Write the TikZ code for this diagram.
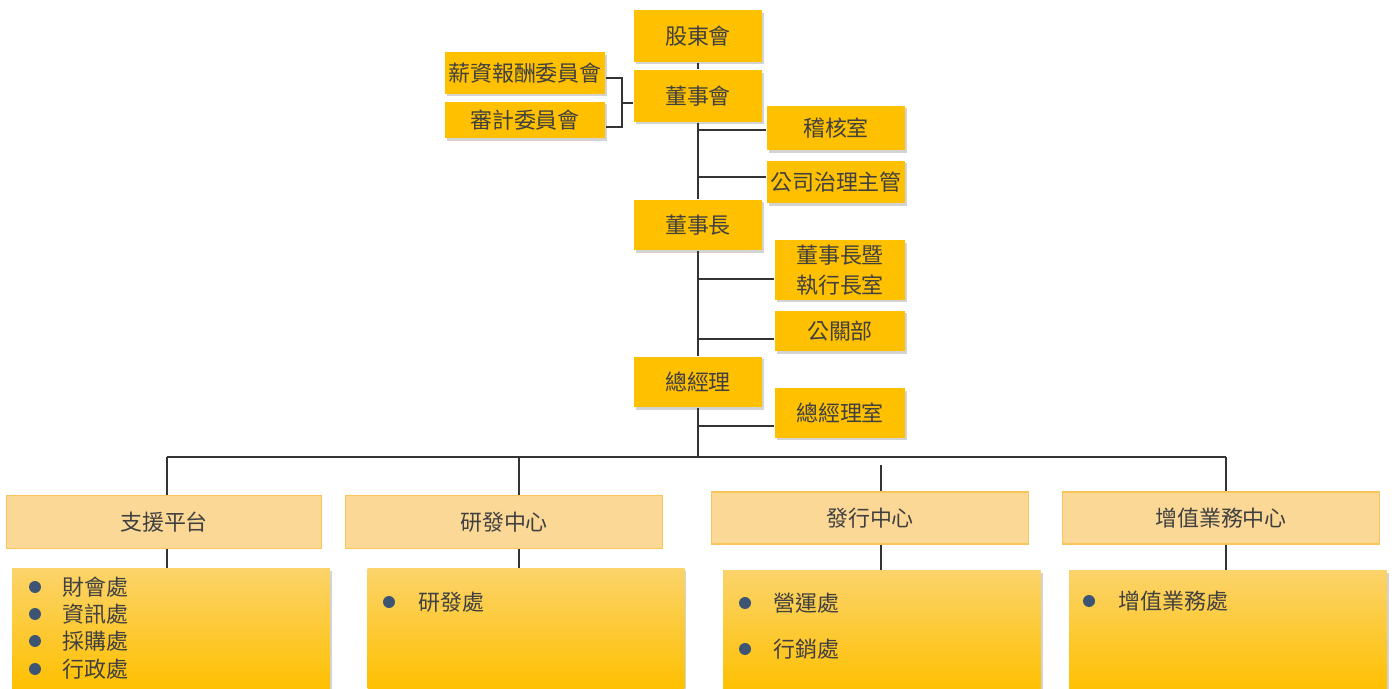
\documentclass[tikz,border=0pt]{standalone}
\usepackage{fontspec}
\setmainfont{Noto Sans CJK TC}
\usetikzlibrary{shadows}
\definecolor{gold}{HTML}{FFC000}
\definecolor{goldlight}{HTML}{FBD36A}
\definecolor{peach}{HTML}{FCD897}
\definecolor{peachline}{HTML}{F7C55A}
\definecolor{txt}{HTML}{404040}
\definecolor{dotblue}{HTML}{3D5475}
\definecolor{linegray}{HTML}{333333}

\begin{document}
\begin{tikzpicture}[x=0.02cm, y=-0.02cm, line width=0.8pt,
    every node/.style={font=\fontsize{12.5}{17}\selectfont, text=txt},
    main/.style={fill=gold, inner sep=0pt, align=center,
        drop shadow={shadow xshift=0.04cm, shadow yshift=-0.05cm, opacity=0.35, fill=gray}},
    hub/.style={fill=peach, draw=peachline, line width=0.6pt, inner sep=0pt,
        minimum width=6.34cm, minimum height=1.04cm},
    dept/.style={anchor=north, top color=goldlight, bottom color=gold, inner sep=0pt,
        minimum width=6.36cm, minimum height=2.42cm,
        drop shadow={shadow xshift=0.04cm, shadow yshift=-0.05cm, opacity=0.35, fill=gray}},
    dot/.style={circle, fill=dotblue, inner sep=0pt, minimum size=0.24cm},
    item/.style={anchor=west, inner sep=0pt},
    link/.style={draw=linegray}]
    \useasboundingbox (0,0) rectangle (1394,689);

    \node[main, minimum width=2.58cm, minimum height=1.04cm] (gdh) at (698,36)  {股東會};
    \node[main, minimum width=2.58cm, minimum height=1.04cm] (dsh) at (698,96)  {董事會};
    \node[main, minimum width=3.2cm, minimum height=0.84cm]  (pay) at (525,73)  {薪資報酬委員會};
    \node[main, minimum width=3.2cm, minimum height=0.74cm]  (aud) at (525,120) {審計委員會};
    \node[main, minimum width=2.76cm, minimum height=0.9cm]  (jhs) at (836,128) {稽核室};
    \node[main, minimum width=2.76cm, minimum height=0.86cm] (gov) at (836,182) {公司治理主管};
    \node[main, minimum width=2.58cm, minimum height=1.02cm] (dsz) at (698,225) {董事長};
    \node[main, minimum width=2.62cm, minimum height=1.2cm]  (ceo) at (840,270) {董事長暨\\執行長室};
    \node[main, minimum width=2.62cm, minimum height=0.82cm] (pr)  at (840,331) {公關部};
    \node[main, minimum width=2.58cm, minimum height=1.02cm] (zjl) at (698,382) {總經理};
    \node[main, minimum width=2.62cm, minimum height=1.0cm]  (gmo) at (840,413) {總經理室};

    \node[hub, minimum width=6.3cm, minimum height=1.06cm] (sup) at (164,522)  {支援平台};
    \node[hub, minimum height=1.06cm]                     (rd)  at (504,522)  {研發中心};
    \node[hub]                                            (fx)  at (870,518)  {發行中心};
    \node[hub]                                            (vas) at (1221,518) {增值業務中心};

    \node[dept] (d1) at (171,568)  {};
    \node[dept, minimum width=6.34cm] (d2) at (526,568) {};
    \node[dept] (d3) at (882,570)  {};
    \node[dept] (d4) at (1228,570) {};

    \node[dot] (p1) at (35,587) {};   \node[item] (t1) at (62,587)   {財會處};
    \node[dot] (p2) at (35,614) {};   \node[item] (t2) at (62,614)   {資訊處};
    \node[dot] (p3) at (35,641) {};   \node[item] (t3) at (62,641)   {採購處};
    \node[dot] (p4) at (35,669) {};   \node[item] (t4) at (62,669)   {行政處};
    \node[dot] (p5) at (389,602) {};  \node[item] (t5) at (418,602)  {研發處};
    \node[dot] (p6) at (745,603) {};  \node[item] (t6) at (773,603)  {營運處};
    \node[dot] (p7) at (745,649) {};  \node[item] (t7) at (773,649)  {行銷處};
    \node[dot] (p8) at (1089,601) {}; \node[item] (t8) at (1118,601) {增值業務處};

    \coordinate (br) at (622,103);
    \coordinate (a1) at (698,130);
    \coordinate (a2) at (698,177);
    \coordinate (a3) at (698,279);
    \coordinate (a4) at (698,339);
    \coordinate (a5) at (698,426);
    \coordinate (b0) at (698,457);
    \coordinate (b1) at (167,457);
    \coordinate (b2) at (519,457);
    \coordinate (b3) at (881,465);
    \coordinate (b4) at (1226,457);

    \draw[link] (gdh) -- (dsh);
    \draw[link] ([yshift=-0.1cm]pay.east) -| (br) |- ([yshift=-0.14cm]aud.east);
    \draw[link] (br) -- (br -| dsh.west);
    \draw[link] (dsh) -- (dsz);
    \draw[link] (a1) -- (a1 -| jhs.west);
    \draw[link] (a2) -- (a2 -| gov.west);
    \draw[link] (dsz) -- (zjl);
    \draw[link] (a3) -- (a3 -| ceo.west);
    \draw[link] (a4) -- (a4 -| pr.west);
    \draw[link] (zjl) -- (b0);
    \draw[link] (a5) -- (a5 -| gmo.west);
    \draw[link] (b1) -- (b4);
    \draw[link] (b1) -- (b1 |- sup.north);
    \draw[link] (b2) -- (b2 |- rd.north);
    \draw[link] (b3) -- (b3 |- fx.north);
    \draw[link] (b4) -- (b4 |- vas.north);
    \draw[link] (b1 |- sup.south) -- (b1 |- d1.north);
    \draw[link] (b2 |- rd.south) -- (b2 |- d2.north);
    \draw[link] (b3 |- fx.south) -- (b3 |- d3.north);
    \draw[link] (b4 |- vas.south) -- (b4 |- d4.north);
\end{tikzpicture}
\end{document}
